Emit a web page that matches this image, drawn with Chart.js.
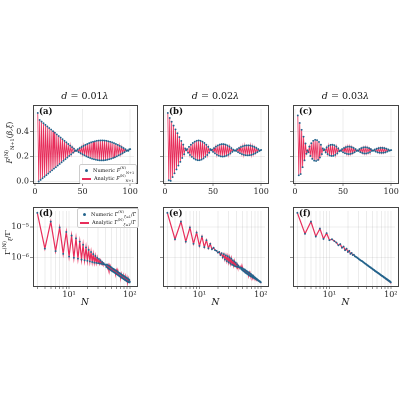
<!DOCTYPE html>
<html><head><meta charset="utf-8">
<script src="https://cdn.jsdelivr.net/npm/chart.js@4.4.0/dist/chart.umd.min.js"></script>
<style>
body{margin:0;background:#fff;width:400px;height:400px;position:relative;overflow:hidden;font-family:"DejaVu Serif","Liberation Serif",serif;}
.pc{position:absolute;}
.frame{position:absolute;border:1px solid #444;box-sizing:border-box;pointer-events:none;}
.t{position:absolute;font-size:9px;color:#111;white-space:nowrap;}
.lab{position:absolute;font-size:8.5px;font-weight:bold;color:#111;}
.leg{position:absolute;background:rgba(255,255,255,0.92);border:1px solid #ccc;border-radius:2px;font-size:5px;color:#111;padding:1px 2px;line-height:8px;white-space:nowrap;}
.leg sub,.leg sup{font-size:3.5px;line-height:0}
.t sub,.t sup{font-size:5px;line-height:0}
</style></head><body>
<script>
const topN = Array.from({length:98},(_,i)=>i+3);
const fidA = [0.55,0.00,0.494,0.013,0.481,0.026,0.468,0.038,0.455,0.051,0.442,0.064,0.429,0.077,0.417,0.09,0.404,0.103,0.391,0.115,0.378,0.128,0.365,0.141,0.353,0.154,0.34,0.167,0.327,0.179,0.314,0.192,0.301,0.205,0.288,0.218,0.276,0.231,0.263,0.244,0.25,0.245,0.259,0.236,0.268,0.227,0.277,0.218,0.286,0.21,0.294,0.202,0.301,0.195,0.308,0.189,0.314,0.183,0.319,0.179,0.323,0.175,0.327,0.172,0.329,0.17,0.33,0.17,0.33,0.17,0.329,0.172,0.327,0.175,0.323,0.179,0.319,0.183,0.314,0.189,0.308,0.195,0.301,0.202,0.294,0.21,0.286,0.218,0.277,0.227,0.268,0.236,0.259,0.245,0.25,0.246,0.258,0.26];
const fidB = [0.55,0.01,0.51,0.005,0.48,0.036,0.449,0.066,0.418,0.097,0.388,0.128,0.357,0.158,0.326,0.189,0.296,0.219,0.265,0.25,0.26,0.231,0.278,0.213,0.295,0.198,0.309,0.185,0.32,0.176,0.327,0.171,0.33,0.171,0.327,0.176,0.32,0.185,0.309,0.198,0.295,0.213,0.278,0.231,0.26,0.25,0.256,0.238,0.268,0.226,0.28,0.215,0.289,0.207,0.296,0.202,0.3,0.2,0.3,0.202,0.296,0.207,0.289,0.215,0.28,0.226,0.268,0.238,0.256,0.247,0.25,0.245,0.26,0.236,0.269,0.227,0.277,0.22,0.283,0.214,0.288,0.211,0.29,0.21,0.29,0.211,0.288,0.214,0.283,0.22,0.277,0.227,0.269,0.236,0.26,0.245,0.25,0.253];
const fidC = [0.53,0.05,0.47,0.06,0.415,0.115,0.36,0.17,0.305,0.223,0.25,0.235,0.28,0.205,0.307,0.182,0.327,0.168,0.335,0.165,0.332,0.173,0.318,0.193,0.295,0.22,0.265,0.25,0.258,0.234,0.274,0.22,0.286,0.209,0.294,0.205,0.295,0.206,0.291,0.214,0.28,0.226,0.266,0.242,0.25,0.245,0.26,0.235,0.269,0.227,0.276,0.222,0.28,0.22,0.28,0.222,0.276,0.227,0.269,0.235,0.26,0.245,0.25,0.245,0.26,0.236,0.268,0.229,0.273,0.225,0.275,0.225,0.273,0.229,0.268,0.236,0.26,0.245,0.25,0.247,0.257,0.24,0.263,0.234,0.268,0.231,0.27,0.23,0.27,0.231,0.268,0.234,0.263,0.24,0.257,0.247,0.25,0.252];
const gamLogD = [-4.53,-5.71,-4.82,-5.79,-5.01,-5.88,-5.16,-5.97,-5.28,-6.01,-5.37,-6.04,-5.48,-6.07,-5.58,-6.09,-5.67,-6.11,-5.75,-6.13,-5.82,-6.15,-5.89,-6.17,-5.95,-6.18,-6.01,-6.19,-6.05,-6.20,-6.10,-6.21,-6.15,-6.22,-6.19,-6.23,-6.23,-6.25,-6.31,-6.23,-6.34,-6.26,-6.37,-6.28,-6.40,-6.31,-6.42,-6.33,-6.45,-6.36,-6.47,-6.38,-6.49,-6.40,-6.51,-6.42,-6.53,-6.44,-6.55,-6.46,-6.57,-6.48,-6.59,-6.50,-6.61,-6.52,-6.63,-6.53,-6.64,-6.55,-6.66,-6.57,-6.68,-6.59,-6.69,-6.60,-6.71,-6.61,-6.72,-6.63,-6.74,-6.64,-6.75,-6.66,-6.76,-6.67,-6.78,-6.68,-6.79,-6.69,-6.80,-6.71,-6.81,-6.72,-6.82,-6.74,-6.82,-6.80];
const gamLogE = [-4.53,-5.40,-4.82,-5.48,-5.01,-5.55,-5.18,-5.62,-5.31,-5.66,-5.43,-5.70,-5.55,-5.73,-5.68,-5.76,-5.78,-5.84,-5.82,-5.92,-5.86,-6.00,-5.89,-6.07,-5.93,-6.12,-5.96,-6.16,-6.00,-6.20,-6.04,-6.24,-6.09,-6.26,-6.13,-6.29,-6.17,-6.30,-6.22,-6.31,-6.27,-6.32,-6.32,-6.34,-6.335,-6.38,-6.345,-6.42,-6.37,-6.445,-6.385,-6.47,-6.40,-6.50,-6.43,-6.52,-6.45,-6.54,-6.47,-6.56,-6.49,-6.58,-6.51,-6.60,-6.53,-6.615,-6.545,-6.62,-6.57,-6.64,-6.59,-6.655,-6.605,-6.66,-6.63,-6.68,-6.65,-6.685,-6.665,-6.705,-6.69,-6.71,-6.70,-6.73,-6.72,-6.74,-6.735,-6.75,-6.76,-6.76,-6.77,-6.78,-6.78,-6.79,-6.80,-6.80,-6.81,-6.82];
const gamLogF = [-4.53,-5.22,-4.82,-5.31,-5.05,-5.39,-5.20,-5.43,-5.40,-5.46,-5.51,-5.60,-5.56,-5.68,-5.64,-5.76,-5.71,-5.82,-5.78,-5.88,-5.85,-5.92,-5.91,-5.96,-5.98,-6.00,-6.02,-6.05,-6.07,-6.09,-6.11,-6.12,-6.14,-6.16,-6.18,-6.20,-6.21,-6.23,-6.25,-6.26,-6.28,-6.29,-6.31,-6.32,-6.33,-6.35,-6.36,-6.37,-6.39,-6.40,-6.41,-6.42,-6.44,-6.45,-6.46,-6.47,-6.48,-6.49,-6.50,-6.51,-6.52,-6.53,-6.54,-6.55,-6.56,-6.57,-6.58,-6.59,-6.60,-6.61,-6.61,-6.62,-6.63,-6.64,-6.65,-6.66,-6.66,-6.67,-6.68,-6.69,-6.70,-6.70,-6.71,-6.72,-6.72,-6.73,-6.74,-6.75,-6.75,-6.76,-6.77,-6.77,-6.78,-6.79,-6.79,-6.80,-6.81,-6.82];
const titles = ['0.01','0.02','0.03'];
const topTicks = [0, 50, 100];
const fidTicks = [0.0, 0.2, 0.4];

const PT = '#24648c', LN = 'rgba(228,22,72,0.9)';
const FONT = {family:'"DejaVu Serif","Liberation Serif",serif', size:8};
const YW = 33, XH = 14;
const cols = [{l:33,r:137},{l:163,r:268},{l:293,r:398}];
const rows = [{t:105,b:183},{t:207,b:286}];

function el(cls, css, html){const d=document.createElement('div');d.className=cls;Object.assign(d.style,css);d.innerHTML=html||'';document.body.appendChild(d);return d;}

function panel(ci, ri, data, isLog, label){
  const c = cols[ci], r = rows[ri];
  const w = c.r - c.l + YW + 1, h = r.b - r.t + XH;
  const div = el('pc',{left:(c.l-YW)+'px',top:r.t+'px',width:w+'px',height:h+'px'});
  const cv = document.createElement('canvas');
  cv.width=w; cv.height=h; cv.style.width=w+'px'; cv.style.height=h+'px';
  div.appendChild(cv);
  const pts = data.map((v,i)=>({x:topN[i], y: isLog ? Math.pow(10,v) : v}));
  const showY = ci===0;
  const grid = {color:'rgba(0,0,0,0.13)', tickLength:3, drawTicks:true, tickColor:'#444', lineWidth:0.6};
  const xs = isLog ? {
      type:'logarithmic', min:2.55, max:117,
      grid:{...grid},
      ticks:{font:FONT,color:'#222',autoSkip:false,maxRotation:0,padding:1,
        callback:(v)=>v===10?'10¹':(v===100?'10²':'')},
      afterBuildTicks:(s)=>{const t=[];for(let e=0;e<=2;e++)for(let m=1;m<10;m++){const v=m*Math.pow(10,e);if(v>=2.55&&v<=117)t.push({value:v});}s.ticks=t;}
    } : {
      type:'linear', min:-2, max:104,
      grid:{...grid, borderDash:[2,2]},
      ticks:{font:FONT,color:'#222',padding:1,maxRotation:0},
      afterBuildTicks:(s)=>{s.ticks=topTicks.map(v=>({value:v}));}
    };
  xs.border={display:false};
  xs.afterFit=(s)=>{s.height=XH;s.paddingLeft=0;s.paddingRight=0;};
  const ys = isLog ? {
      type:'logarithmic', min:Math.pow(10,-6.94), max:Math.pow(10,-4.47),
      grid:{...grid},
      ticks:{display:showY,font:FONT,color:'#222',padding:1,autoSkip:false,
        callback:(v)=>{const e=Math.round(Math.log10(v));return e===-5?'10⁻⁵':(e===-6?'10⁻⁶':'');}},
      afterBuildTicks:(s)=>{s.ticks=[{value:1e-6},{value:1e-5}];}
    } : {
      type:'linear', min:-0.012, max:0.582,
      grid:{...grid, borderDash:[2,2]},
      ticks:{display:showY,font:FONT,color:'#222',padding:1,callback:(v)=>v.toFixed(1)},
      afterBuildTicks:(s)=>{s.ticks=fidTicks.map(v=>({value:v}));}
    };
  ys.border={display:false};
  ys.afterFit=(s)=>{s.width=YW;s.paddingTop=0;s.paddingBottom=0;};
  new Chart(cv,{type:'line',
    data:{datasets:[
      {data:pts,borderColor:LN,borderWidth:isLog?1.2:0.8,pointRadius:0,fill:false,tension:0,order:2},
      {data:pts,showLine:false,pointRadius:0.95,pointBackgroundColor:PT,pointBorderWidth:0,order:1}
    ]},
    options:{responsive:false,maintainAspectRatio:false,animation:false,devicePixelRatio:2,
      layout:{padding:{left:0,right:1,top:0,bottom:0}},
      plugins:{legend:{display:false},tooltip:{enabled:false}},
      scales:{x:xs,y:ys}}
  });
  el('frame',{left:c.l+'px',top:r.t+'px',width:(c.r-c.l+1)+'px',height:(r.b-r.t+1)+'px'});
  el('lab',{left:(c.l+6)+'px',top:(r.t+1)+'px'},label);
}

const specs=[[0,0,fidA,false,'(a)'],[1,0,fidB,false,'(b)'],[2,0,fidC,false,'(c)'],
             [0,1,gamLogD,true,'(d)'],[1,1,gamLogE,true,'(e)'],[2,1,gamLogF,true,'(f)']];
specs.forEach(s=>panel(...s));
titles.forEach((t,i)=>{const c=cols[i];
  el('t',{left:c.l+'px',width:(c.r-c.l)+'px',textAlign:'center',top:'90px',fontSize:'9.5px'},'<i>d</i> = '+t+'<i>λ</i>');
  el('t',{left:c.l+'px',width:(c.r-c.l)+'px',textAlign:'center',top:'297px',fontStyle:'italic',fontSize:'9px'},'N');
});
el('t',{left:'-26px',top:'138px',width:'70px',textAlign:'center',transform:'rotate(-90deg)',fontSize:'7.5px'},'<i>F</i><sup>(N)</sup><sub>N+1</sub>(<i>β</i>,<i>ξ</i>)');
el('t',{left:'-23px',top:'238px',width:'60px',textAlign:'center',transform:'rotate(-90deg)',fontSize:'8px'},'Γ<sup>(N)</sup><sub><i>ξ</i></sub>/Γ');
el('leg',{left:'79px',top:'164px'},
  '<span style="display:inline-block;width:3px;height:3px;border-radius:2px;background:'+PT+';margin:0 5px 0 3px"></span>Numeric <i>F</i><sup>(N)</sup><sub>N+1</sub><br>'+
  '<span style="display:inline-block;width:9px;height:2px;background:'+LN+';vertical-align:middle;margin-right:3px"></span>Analytic <i>F</i><sup>(N)</sup><sub>N+1</sub>');
el('leg',{left:'77px',top:'208px'},
  '<span style="display:inline-block;width:3px;height:3px;border-radius:2px;background:'+PT+';margin:0 5px 0 3px"></span>Numeric Γ<sup>(N)</sup><sub><i>ξ</i>=1</sub>/Γ<br>'+
  '<span style="display:inline-block;width:9px;height:2px;background:'+LN+';vertical-align:middle;margin-right:3px"></span>Analytic Γ<sup>(N)</sup><sub><i>ξ</i>=1</sub>/Γ');
</script>
</body></html>
